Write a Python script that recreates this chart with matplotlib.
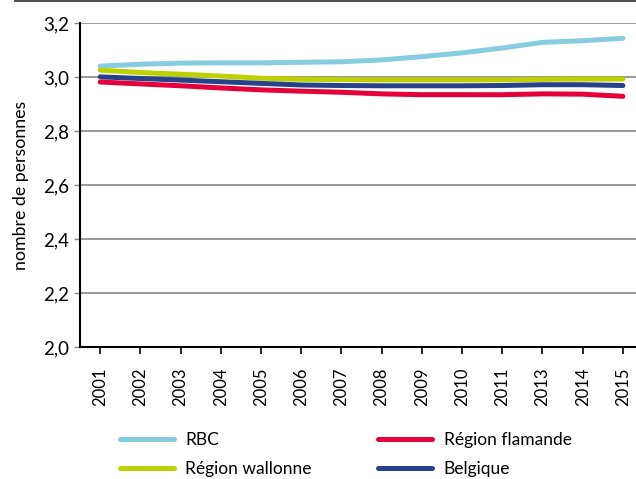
import matplotlib.pyplot as plt
from matplotlib.lines import Line2D

# Taille moyenne des ménages (nombre de personnes)
annees = ['2001', '2002', '2003', '2004', '2005', '2006', '2007',
          '2008', '2009', '2010', '2011', '2013', '2014', '2015']
rbc = [3.041, 3.048, 3.052, 3.053, 3.053, 3.055, 3.057,
       3.064, 3.076, 3.090, 3.108, 3.129, 3.135, 3.144]
wallonne = [3.026, 3.017, 3.011, 3.004, 2.996, 2.992, 2.991,
            2.990, 2.990, 2.990, 2.990, 2.992, 2.993, 2.993]
flamande = [2.982, 2.975, 2.968, 2.960, 2.953, 2.948, 2.944,
            2.938, 2.935, 2.935, 2.935, 2.938, 2.937, 2.929]
belgique = [3.001, 2.995, 2.989, 2.983, 2.977, 2.971, 2.969,
            2.968, 2.968, 2.968, 2.969, 2.972, 2.972, 2.969]

plt.rcParams['font.family'] = ['Lato', 'DejaVu Sans']

fig = plt.figure(figsize=(6.36, 4.79), dpi=100)
ax = fig.add_axes([0.126, 0.2756, 0.885, 0.676])

x = range(len(annees))
lw = 3.6
ax.plot(x, rbc, color='#86cde0', lw=lw, solid_capstyle='round', label='RBC')
ax.plot(x, wallonne, color='#bdd100', lw=lw, solid_capstyle='round', label='Région wallonne')
ax.plot(x, belgique, color='#27428b', lw=lw, solid_capstyle='round', label='Belgique')
ax.plot(x, flamande, color='#e4003b', lw=lw, solid_capstyle='round', label='Région flamande')

ax.set_xlim(-0.5, len(annees) - 0.5)
ax.set_ylim(2.0, 3.2)
ax.set_yticks([2.0, 2.2, 2.4, 2.6, 2.8, 3.0, 3.2])
ax.set_yticklabels(['2,0', '2,2', '2,4', '2,6', '2,8', '3,0', '3,2'], fontsize=13.5)
ax.set_xticks(list(x))
ax.set_xticklabels(annees, rotation=90, fontsize=12)
ax.tick_params(axis='x', length=5, width=1.2, color='black', pad=10)
ax.tick_params(axis='y', length=4, width=1, color='#888888', pad=4)
ax.yaxis.grid(True, color='#888888', lw=1.2)
ax.set_axisbelow(True)
for s in ['top', 'right']:
    ax.spines[s].set_visible(False)
ax.spines['left'].set_linewidth(1.5)
ax.spines['bottom'].set_linewidth(1.5)
ax.set_ylabel('nombre de personnes', fontsize=12.8, labelpad=10)

# ligne en haut de la figure
fig.add_artist(Line2D([0.024, 1.0], [0.998, 0.998], color='#555555', lw=1.5,
                      transform=fig.transFigure))

h, l = ax.get_legend_handles_labels()
ordre = [0, 1, 3, 2]
fig.legend([h[i] for i in ordre], [l[i] for i in ordre], ncol=2,
           loc='upper left', bbox_to_anchor=(0.1887, 0.098), frameon=False,
           fontsize=12.5, handlelength=3.1, columnspacing=3.85,
           handletextpad=0.65, labelspacing=0.75, borderpad=0,
           borderaxespad=0)

fig.savefig('out.png', dpi=100)
